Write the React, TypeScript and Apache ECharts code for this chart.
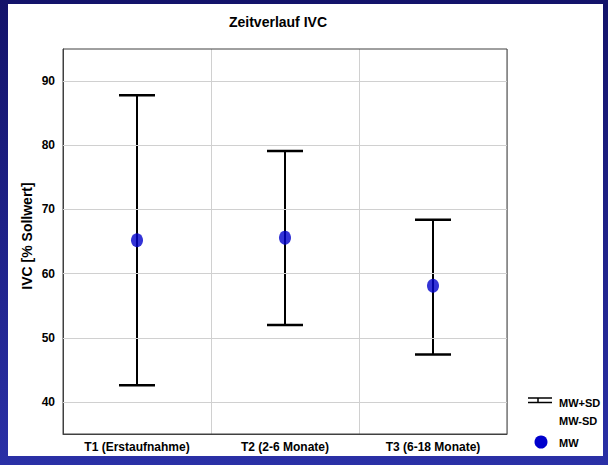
import React, { useEffect, useRef } from 'react';
import * as echarts from 'echarts';

const categories = ['T1 (Erstaufnahme)', 'T2 (2-6 Monate)', 'T3 (6-18 Monate)'];
const meanValues = [65.2, 65.6, 58.1];
const upperValues = [87.8, 79.1, 68.4];
const lowerValues = [42.6, 52.0, 47.4];
const gridValues = [40, 50, 60, 70, 80, 90];
const titleText = 'Zeitverlauf IVC';
const yAxisTitle = 'IVC [% Sollwert]';
const legendLabels = ['MW+SD', 'MW-SD', 'MW'];

const FONT = '"Liberation Sans", Arial, sans-serif';

export default function App() {
  const ref = useRef<HTMLDivElement>(null);
  useEffect(() => {
    if (!ref.current) return;
    const chart = echarts.init(ref.current, undefined, { renderer: 'svg' });
    const errData = categories.map((_, i) => [i, lowerValues[i], upperValues[i]]);
    const meanData = categories.map((_, i) => [i, meanValues[i]]);
    chart.setOption({
      animation: false,
      backgroundColor: '#ffffff',
      grid: { left: 55, top: 45, width: 444, height: 385, show: true, borderColor: '#404040', borderWidth: 1, backgroundColor: 'transparent', z: 5 },
      xAxis: {
        type: 'category',
        data: categories,
        boundaryGap: true,
        axisLine: { show: true, lineStyle: { color: '#404040', width: 1 } },
        axisTick: { show: false },
        splitLine: { show: true, lineStyle: { color: '#d0d0d0', width: 1 } },
        axisLabel: { color: '#000', fontFamily: FONT, fontWeight: 'bold', fontSize: 12, margin: 7 },
      },
      yAxis: {
        type: 'value',
        min: 35,
        max: 95,
        interval: 5,
        axisLine: { show: true, lineStyle: { color: '#404040', width: 1 } },
        axisTick: { show: false },
        splitLine: { show: false },
        axisLabel: {
          color: '#000', fontFamily: FONT, fontWeight: 'bold', fontSize: 12, margin: 8,
          formatter: (v: number) => (gridValues.indexOf(v) >= 0 ? String(v) : ''),
        },
      },
      series: [
        {
          type: 'line',
          data: [],
          z: 1,
          silent: true,
          markLine: {
            silent: true,
            symbol: 'none',
            label: { show: false },
            lineStyle: { color: '#d0d0d0', type: 'solid', width: 1 },
            data: gridValues.map((v) => ({ yAxis: v })),
          },
        },
        {
          type: 'custom',
          z: 3,
          data: errData,
          encode: { x: 0, y: [1, 2] },
          renderItem: (params: any, api: any) => {
            const x = api.value(0);
            const lo = api.value(1);
            const hi = api.value(2);
            const top = api.coord([x, hi]);
            const bot = api.coord([x, lo]);
            const hw = 18;
            return {
              type: 'group',
              children: [
                { type: 'line', shape: { x1: top[0], y1: top[1], x2: bot[0], y2: bot[1] }, style: { stroke: '#000', lineWidth: 2 } },
                { type: 'line', shape: { x1: top[0] - hw, y1: top[1], x2: top[0] + hw, y2: top[1] }, style: { stroke: '#000', lineWidth: 2.5 } },
                { type: 'line', shape: { x1: bot[0] - hw, y1: bot[1], x2: bot[0] + hw, y2: bot[1] }, style: { stroke: '#000', lineWidth: 2.5 } },
              ],
            };
          },
        },
        {
          type: 'scatter',
          z: 4,
          data: meanData,
          symbol: 'circle',
          symbolSize: [12, 14],
          itemStyle: { color: '#0000cc' },
        },
      ],
      graphic: [
        {
          type: 'text',
          x: 270,
          y: 18,
          style: { text: titleText, align: 'center', verticalAlign: 'middle', font: `bold 14px ${FONT}`, fill: '#000' },
        },
        {
          type: 'text',
          x: 19,
          y: 232,
          rotation: Math.PI / 2,
          style: { text: yAxisTitle, align: 'center', verticalAlign: 'middle', font: `bold 14px ${FONT}`, fill: '#000' },
        },
        { type: 'line', shape: { x1: 520, y1: 394, x2: 544, y2: 394 }, style: { stroke: '#000', lineWidth: 1.5 } },
        { type: 'line', shape: { x1: 520, y1: 398.5, x2: 544, y2: 398.5 }, style: { stroke: '#000', lineWidth: 1.5 } },
        { type: 'line', shape: { x1: 530, y1: 394, x2: 530, y2: 398.5 }, style: { stroke: '#000', lineWidth: 1.5 } },
        { type: 'circle', shape: { cx: 533, cy: 438, r: 6.5 }, style: { fill: '#0000cc' } },
        { type: 'text', x: 551, y: 398.5, style: { text: legendLabels[0], align: 'left', verticalAlign: 'middle', font: `bold 11px ${FONT}`, fill: '#000' } },
        { type: 'text', x: 551, y: 417, style: { text: legendLabels[1], align: 'left', verticalAlign: 'middle', font: `bold 11px ${FONT}`, fill: '#000' } },
        { type: 'text', x: 551, y: 438.5, style: { text: legendLabels[2], align: 'left', verticalAlign: 'middle', font: `bold 11px ${FONT}`, fill: '#000' } },
      ],
    });
    return () => chart.dispose();
  }, []);
  return (
    <div style={{ position: 'fixed', left: 0, top: 0, width: 608, height: 465, background: 'linear-gradient(to bottom, #13136a, #2a30a6)' }}>
      <div ref={ref} style={{ position: 'absolute', left: 8, top: 4, width: 595, height: 452 }} />
    </div>
  );
}
